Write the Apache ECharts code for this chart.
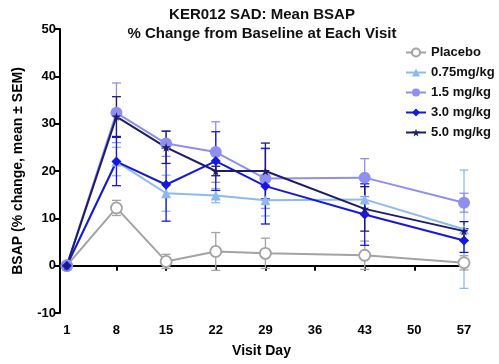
<!DOCTYPE html>
<html>
<head>
<meta charset="utf-8">
<script src="https://cdn.jsdelivr.net/npm/echarts@6/dist/echarts.min.js"></script>
<style>
html, body { margin: 0; padding: 0; background: #fff; }
#chart { width: 499px; height: 364px; }
</style>
</head>
<body>
<div id="chart"></div>
<script>
// visit days and tick labels
var days = [1, 8, 15, 22, 29, 43, 57];
var xTicks = [1, 8, 15, 22, 29, 36, 43, 50, 57];

var groups = ["Placebo", "0.75mg/kg", "1.5 mg/kg", "3.0 mg/kg", "5.0 mg/kg"];

// mean % change from baseline
var placeboMean = [0, 12.2, 0.9, 3.0, 2.6, 2.2, 0.6];
var dose075Mean = [0, 22.0, 15.3, 14.8, 13.8, 14.0, 7.7];
var dose15Mean  = [0, 32.3, 25.8, 24.0, 18.4, 18.6, 13.3];
var dose30Mean  = [0, 22.0, 17.1, 22.1, 16.8, 10.8, 5.3];
var dose50Mean  = [0, 31.5, 25.0, 20.0, 20.0, 12.0, 7.3];

// SEM
var placeboSem = [0, 1.6, 1.5, 4.0, 3.2, 3.0, 1.5];
var dose075Sem = [0, 3.0, 3.8, 1.5, 3.3, 2.7, 12.5];
var dose15Sem  = [0, 6.3, 2.7, 6.4, 6.3, 4.0, 2.0];
var dose30Sem  = [0, 5.1, 7.7, 6.2, 8.0, 6.5, 2.5];
var dose50Sem  = [0, 4.2, 3.4, 1.0, 5.9, 4.7, 2.0];

var colors = ["#a3a3a3", "#8fbaf0", "#8f8ff0", "#1717e0", "#1c1c6e"];
var starPath = "path://M50,0 L61,35 L98,35 L68,57 L79,91 L50,70 L21,91 L32,57 L2,35 L39,35 Z";

function pairs(means) {
  return days.map(function (d, i) { return [d, means[i]]; });
}

function lineSeries(name, color, means, symbol, size, hollow) {
  return {
    name: name,
    type: "line",
    data: pairs(means),
    symbol: symbol,
    symbolSize: size,
    showAllSymbol: true,
    z: 3,
    lineStyle: { color: color, width: 2 },
    itemStyle: { color: hollow ? "#fff" : color, borderColor: color, borderWidth: hollow ? 1.8 : 0 }
  };
}

function errorSeries(name, color, means, sems) {
  return {
    name: name + " SEM",
    type: "custom",
    silent: true,
    z: 2,
    encode: { x: 0, y: [1, 2] },
    data: days.map(function (d, i) { return [d, means[i] - sems[i], means[i] + sems[i], sems[i]]; }),
    renderItem: function (params, api) {
      if (api.value(3) === 0) return null;
      var top = api.coord([api.value(0), api.value(2)]);
      var bot = api.coord([api.value(0), api.value(1)]);
      var w = 4.5;
      var st = { stroke: color, lineWidth: 1.3 };
      return {
        type: "group",
        children: [
          { type: "line", shape: { x1: top[0], y1: top[1], x2: bot[0], y2: bot[1] }, style: st },
          { type: "line", shape: { x1: top[0] - w, y1: top[1], x2: top[0] + w, y2: top[1] }, style: st },
          { type: "line", shape: { x1: bot[0] - w, y1: bot[1], x2: bot[0] + w, y2: bot[1] }, style: st }
        ]
      };
    }
  };
}

var chart = echarts.init(document.getElementById("chart"));

var axisFont = { color: "#000", fontWeight: "bold", fontSize: 13, fontFamily: "Liberation Sans" };

chart.setOption({
  animation: false,
  grid: { left: 59, right: 35, top: 29, bottom: 51 },
  graphic: [{
    type: "text",
    x: 262,
    y: 5,
    style: {
      text: "KER012 SAD: Mean BSAP\n% Change from Baseline at Each Visit",
      align: "center",
      verticalAlign: "top",
      fill: "#111",
      font: "bold 15px 'Liberation Sans'",
      lineHeight: 19
    }
  }],
  legend: {
    data: groups,
    orient: "vertical",
    left: 400,
    top: 41,
    itemWidth: 20,
    itemHeight: 10,
    itemGap: 7,
    textStyle: { color: "#111", fontWeight: "bold", fontSize: 13, fontFamily: "Liberation Sans" }
  },
  xAxis: {
    type: "value",
    min: -0.1,
    max: 57,
    name: "Visit Day",
    nameLocation: "middle",
    nameGap: 31,
    nameTextStyle: { color: "#000", fontWeight: "bold", fontSize: 14, fontFamily: "Liberation Sans" },
    axisLine: { lineStyle: { color: "#000", width: 2 } },
    axisTick: { customValues: xTicks, length: 5, lineStyle: { color: "#000", width: 2 } },
    axisLabel: Object.assign({ customValues: xTicks, margin: 11 }, axisFont),
    splitLine: { show: false }
  },
  yAxis: {
    type: "value",
    min: -10,
    max: 50,
    interval: 10,
    name: "BSAP (% change, mean \u00b1 SEM)",
    nameLocation: "middle",
    nameGap: 34,
    nameTextStyle: { color: "#000", fontWeight: "bold", fontSize: 14, fontFamily: "Liberation Sans" },
    axisLine: { show: true, lineStyle: { color: "#000", width: 2 } },
    axisTick: { show: true, length: 5, lineStyle: { color: "#000", width: 2 } },
    axisLabel: Object.assign({ margin: 3 }, axisFont),
    splitLine: { show: false }
  },
  series: [
    lineSeries(groups[0], colors[0], placeboMean, "circle", 11, true),
    lineSeries(groups[1], colors[1], dose075Mean, "triangle", 10, false),
    lineSeries(groups[2], colors[2], dose15Mean, "circle", 12, false),
    lineSeries(groups[3], colors[3], dose30Mean, "diamond", 10, false),
    lineSeries(groups[4], colors[4], dose50Mean, starPath, 9, false),
    errorSeries(groups[0], colors[0], placeboMean, placeboSem),
    errorSeries(groups[1], colors[1], dose075Mean, dose075Sem),
    errorSeries(groups[2], colors[2], dose15Mean, dose15Sem),
    errorSeries(groups[3], colors[3], dose30Mean, dose30Sem),
    errorSeries(groups[4], colors[4], dose50Mean, dose50Sem)
  ]
});
</script>
</body>
</html>
